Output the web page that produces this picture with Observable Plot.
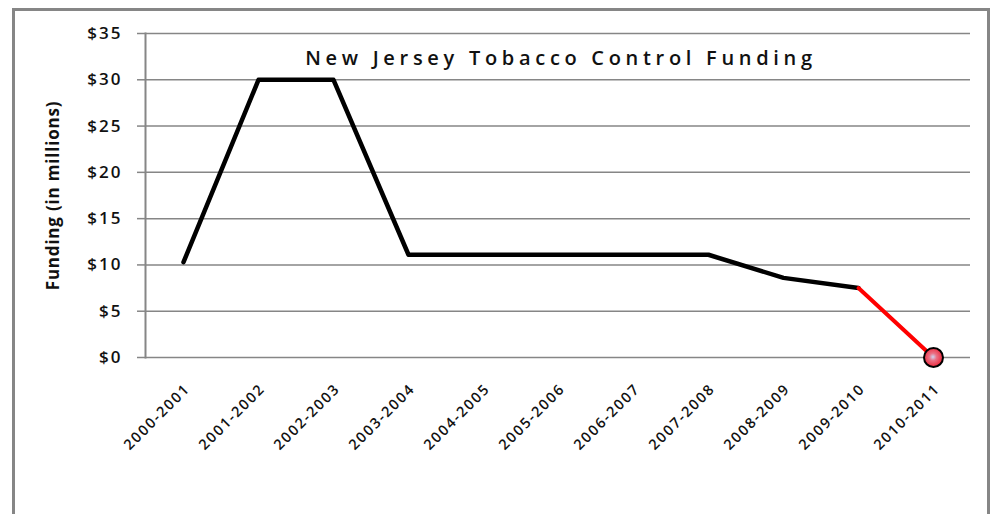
<!DOCTYPE html>
<html>
<head>
<meta charset="utf-8">
<script src="https://cdn.jsdelivr.net/npm/d3@7"></script>
<script src="https://cdn.jsdelivr.net/npm/@observablehq/plot@0.6"></script>
<style>
  html, body { margin: 0; padding: 0; background: #fff; }
  #wrap { position: relative; width: 990px; height: 514px; overflow: hidden; }
  #border { position: absolute; left: 12px; top: 8px; width: 978px; height: 520px; border: 3px solid #868686; box-sizing: border-box; }
  #chart { position: absolute; left: 0; top: 0; }
</style>
</head>
<body>
<div id="wrap"><div id="chart"></div><div id="border"></div></div>
<script>
const title = "New Jersey Tobacco Control Funding";
const yLabel = "Funding (in millions)";
const years = ["2000-2001","2001-2002","2002-2003","2003-2004","2004-2005","2005-2006","2006-2007","2007-2008","2008-2009","2009-2010","2010-2011"];
const funding = [10.3, 30, 30, 11.1, 11.1, 11.1, 11.1, 11.1, 8.6, 7.5, 0];
const yTicks = [0, 5, 10, 15, 20, 25, 30, 35];

const data = years.map((year, i) => ({year, value: funding[i]}));
const blackPart = data.slice(0, data.length - 1);
const redPart = data.slice(data.length - 2);
const lastPoint = data.slice(data.length - 1);

const font = "'Open Sans', sans-serif";

const chart = Plot.plot({
  width: 990,
  height: 514,
  marginLeft: 145,
  marginRight: 20,
  marginTop: 33,
  marginBottom: 157,
  style: {fontFamily: font, background: "transparent", overflow: "visible"},
  x: {type: "point", domain: years, padding: 0.5},
  y: {domain: [0, 35]},
  marks: [
    Plot.gridY(yTicks, {stroke: "#868686", strokeOpacity: 1, strokeWidth: 1.5}),
    Plot.frame({anchor: "left", stroke: "#868686", strokeWidth: 2}),
    Plot.axisY(yTicks, {
      tickSize: 8, tickPadding: 15, stroke: "#868686", strokeWidth: 1.5,
      tickFormat: d => "$" + d, fontSize: 17, fontWeight: 600, fill: "#111", label: null
    }),
    Plot.axisX({
      tickSize: 0, tickRotate: -45, tickPadding: 29, dx: 4,
      fontSize: 15, fontWeight: 600, fill: "#111", label: null
    }),
    Plot.text([yLabel], {
      frameAnchor: "left", textAnchor: "middle", lineAnchor: "middle", dx: -92, rotate: -90,
      fontSize: 17, fontWeight: "bold", fill: "#111"
    }),
    Plot.text([title], {
      frameAnchor: "top", textAnchor: "middle", lineAnchor: "middle", dy: 25, dx: 3,
      fontSize: 20, fontWeight: 600, fill: "#111"
    }),
    Plot.line(blackPart, {x: "year", y: "value", stroke: "#000", strokeWidth: 4.5, strokeLinejoin: "round"}),
    Plot.line(redPart, {x: "year", y: "value", stroke: "#ff0000", strokeWidth: 4}),
    Plot.dot(lastPoint, {x: "year", y: "value", r: 9.5, fill: "url(#sphere)", stroke: "#000", strokeWidth: 2})
  ]
});

const svg = d3.select(chart);
const defs = svg.insert("defs", ":first-child");
const grad = defs.append("radialGradient").attr("id", "sphere").attr("cx", "47%").attr("cy", "47%").attr("r", "55%");
grad.append("stop").attr("offset", "0%").attr("stop-color", "#cdd6f2");
grad.append("stop").attr("offset", "35%").attr("stop-color", "#ea7186");
grad.append("stop").attr("offset", "100%").attr("stop-color", "#ec2235");

// font sizes and letter spacing to mimic the wide original lettering
svg.selectAll('[aria-label="y-axis tick label"] text')
  .style("font-size", "17px").style("letter-spacing", "2px");
svg.selectAll('[aria-label="x-axis tick label"] text')
  .style("font-size", "14.5px").style("letter-spacing", "1.7px");
svg.selectAll('g[aria-label="text"] text').each(function() {
  const t = this.textContent;
  if (t === title) d3.select(this).style("letter-spacing", "4.7px");
  if (t === yLabel) d3.select(this).style("letter-spacing", "0.8px");
});

document.getElementById("chart").appendChild(chart);
</script>
</body>
</html>
